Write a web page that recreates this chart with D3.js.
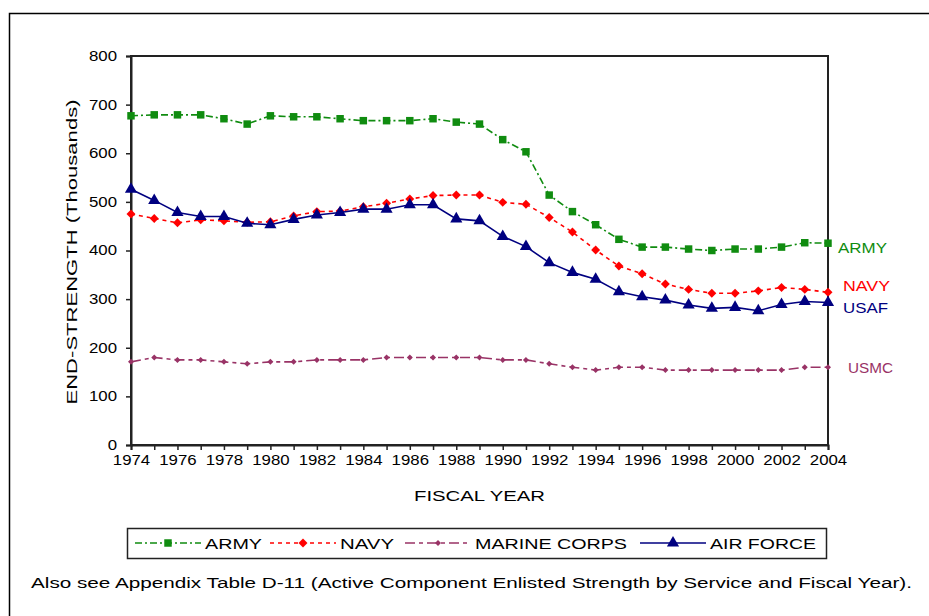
<!DOCTYPE html>
<html><head><meta charset="utf-8">
<script src="https://cdn.jsdelivr.net/npm/d3@7"></script>
<style>body{margin:0;background:#fff}svg{display:block}text{font-family:"Liberation Sans",Arial,sans-serif;fill:#000}</style>
</head><body><svg id="c" width="929" height="616"></svg>
<script>
const years = d3.range(1974, 2005);
const army = [677,679,679,679,671,660,677,675,675,671,667,667,667,671,664,660,628,603,514,480,453,423,407,407,403,400,403,403,407,416,415];
const navy = [475,466,457,463,461,458,459,471,480,481,490,497,506,513,514,514,499,495,468,438,401,368,352,331,320,312,312,317,324,320,314];
const marines = [171,180,175,175,171,167,171,171,175,175,175,180,180,180,180,180,175,175,167,160,154,160,160,154,154,154,154,154,154,160,160];
const airforce = [526,503,478,470,470,456,453,464,473,478,485,485,494,494,465,461,429,408,375,355,341,315,305,298,288,281,283,276,289,295,293];
const yTicks = [0,100,200,300,400,500,600,700,800];
const xLabels = d3.range(1974, 2005, 2);
const seriesNames = ["ARMY","NAVY","MARINE CORPS","AIR FORCE"];
const endLabels = ["ARMY","NAVY","USMC","USAF"];

const svg = d3.select("#c");
const x = d3.scaleLinear().domain([1974, 2004]).range([131, 828]);
const y = d3.scaleLinear().domain([0, 800]).range([445, 56]);

function stretch(sel, factor){
  sel.each(function(){ const w = this.getComputedTextLength(); d3.select(this).attr("textLength", w*factor).attr("lengthAdjust","spacingAndGlyphs"); });
}
function fit(sel, width){ sel.attr("textLength", width).attr("lengthAdjust","spacingAndGlyphs"); }

// outer frame
svg.append("rect").attr("x",9.5).attr("y",13.5).attr("width",940).attr("height",640)
  .attr("fill","none").attr("stroke","#000").attr("stroke-width",1.5);

// plot frame
svg.append("rect").attr("x",x(1974)).attr("y",y(800)).attr("width",x(2004)-x(1974)).attr("height",y(0)-y(800))
  .attr("fill","none").attr("stroke","#222").attr("stroke-width",2);

// y axis
const ya = svg.append("g").attr("transform",`translate(${x(1974)},0)`)
  .call(d3.axisLeft(y).tickValues(yTicks).tickSize(5).tickPadding(9).tickFormat(d3.format("d")));
ya.select(".domain").attr("stroke","#222").attr("stroke-width",2);
ya.selectAll(".tick line").attr("stroke","#222").attr("stroke-width",1.5);
ya.selectAll("text").style("font-size","14px").attr("fill","#000");
stretch(ya.selectAll("text"), 1.2);

// x axis
const xa = svg.append("g").attr("transform",`translate(0,${y(0)})`)
  .call(d3.axisBottom(x).tickValues(years).tickSize(5).tickPadding(5).tickFormat(d => xLabels.includes(d) ? String(d) : ""));
xa.select(".domain").attr("stroke","#222").attr("stroke-width",2);
xa.selectAll(".tick line").attr("stroke","#222").attr("stroke-width",1.5);
xa.selectAll("text").style("font-size","14px").attr("fill","#000");
stretch(xa.selectAll("text").filter(function(){return this.textContent!=="";}), 1.2);

// titles
const xt = svg.append("text").attr("x",(x(1974)+x(2004))/2).attr("y",501).attr("text-anchor","middle")
  .style("font-size","14px").text("FISCAL YEAR");
fit(xt, 131);
const yt = svg.append("text").attr("transform","translate(77,252) rotate(-90)").attr("text-anchor","middle")
  .style("font-size","14px").text("END-STRENGTH (Thousands)");
fit(yt, 305);

const styles = [
  {data: army, color:"#108c10", dash:"7,3,2,3", shape: d3.symbolSquare, size: 56, rot: 0},
  {data: navy, color:"#ff0000", dash:"4,4", shape: d3.symbolSquare, size: 40, rot: 45},
  {data: marines, color:"#993366", dash:"10,4,4,4", shape: d3.symbolSquare, size: 18, rot: 45},
  {data: airforce, color:"#000080", dash:null, shape: d3.symbolTriangle, size: 64, rot: 0}
];

const line = d3.line().x((d,i)=>x(years[i])).y(d=>y(d));
const plot = svg.append("g");
styles.forEach(s => {
  plot.append("path").datum(s.data).attr("d", line).attr("fill","none")
    .attr("stroke", s.color).attr("stroke-width",1.6).attr("stroke-dasharray", s.dash);
  plot.selectAll(null).data(s.data).enter().append("path")
    .attr("d", d3.symbol().type(s.shape).size(s.size))
    .attr("transform",(d,i)=>`translate(${x(years[i])},${y(d)}) rotate(${s.rot})`)
    .attr("fill", s.color);
});

// end labels
const endPos = [{i:0, x:838, y:253, w:49}, {i:1, x:843, y:291, w:47}, {i:2, x:848, y:373, w:45}, {i:3, x:843, y:313, w:45}];
endPos.forEach((p,k) => {
  const t = svg.append("text").attr("x",p.x).attr("y",p.y).style("font-size","14px")
    .style("fill", styles[p.i].color).text(endLabels[k]);
  fit(t, p.w);
});

// legend
svg.append("rect").attr("x",127.5).attr("y",528.5).attr("width",699).attr("height",30)
  .attr("fill","#fff").attr("stroke","#222").attr("stroke-width",1.5);
const legX = [135, 270, 405, 640];
const legW = [57, 54, 152, 106];
seriesNames.forEach((n,k) => {
  const s = styles[k];
  const g = svg.append("g");
  g.append("line").attr("x1",legX[k]).attr("x2",legX[k]+66).attr("y1",543).attr("y2",543)
    .attr("stroke",s.color).attr("stroke-width",1.6).attr("stroke-dasharray",s.dash);
  g.append("path").attr("d", d3.symbol().type(s.shape).size(s.size))
    .attr("transform",`translate(${legX[k]+33},543) rotate(${s.rot})`).attr("fill",s.color);
  const t = g.append("text").attr("x",legX[k]+70).attr("y",548.5).style("font-size","14px").text(n);
  fit(t, legW[k]);
});

// footnote
const fn = svg.append("text").attr("x",31).attr("y",588).style("font-size","14px")
  .text("Also see Appendix Table D-11 (Active Component Enlisted Strength by Service and Fiscal Year).");
fit(fn, 881);
</script></body></html>
